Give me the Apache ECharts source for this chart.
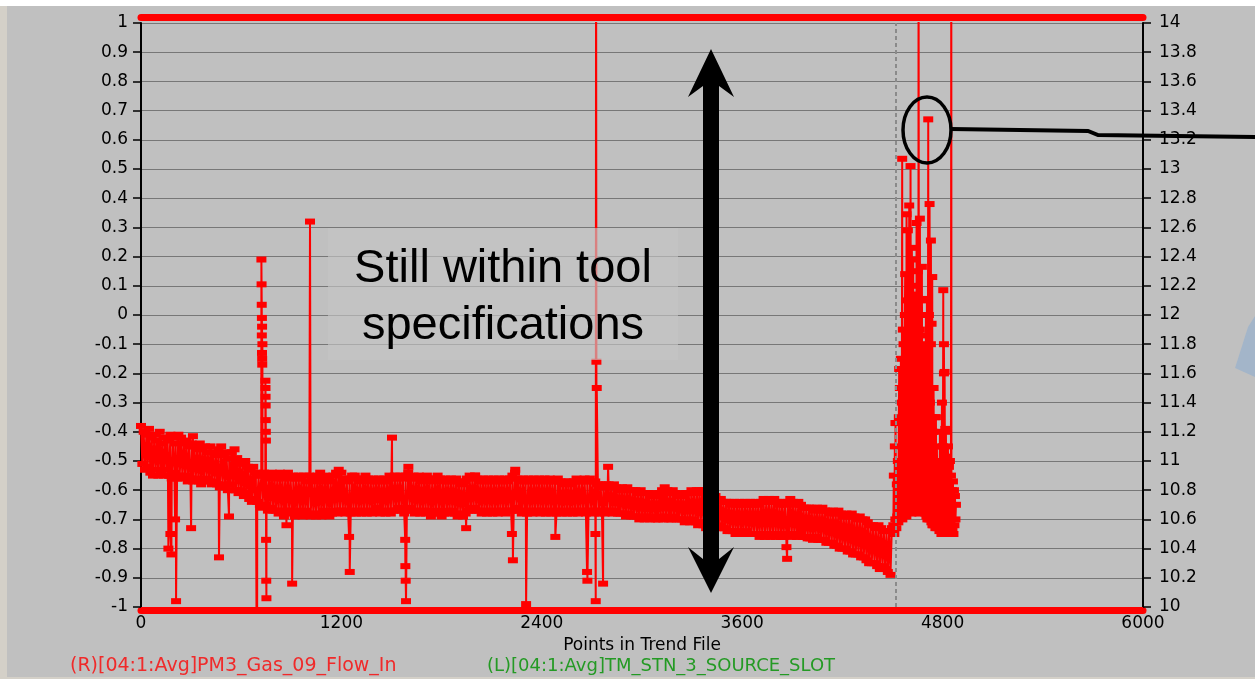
<!DOCTYPE html>
<html><head><meta charset="utf-8">
<script src="https://cdn.jsdelivr.net/npm/echarts@6/dist/echarts.min.js"></script>
<style>html,body{margin:0;padding:0;background:#c0c0c0;}#c{width:1255px;height:679px;}</style>
</head><body><div id="c"></div>
<script>
// Red series (R) PM3_Gas_09_Flow_In, values read on the right axis.
// Dense band: one reading every bandStep points in the trend file, starting at the given point.
const bandStep = 8;
const bandLeftStart = 0;
const bandLeft = [
11.24,10.98,11.2,10.94,11.18,10.96,11.22,10.92,11.16,10.9,
11.18,10.94,11.14,10.9,11.2,10.92,11.12,10.9,11.16,10.94,
11.14,10.9,11.18,10.88,11.16,10.92,11.12,10.88,11.18,10.9,
11.16,10.88,11.12,10.9,11.14,10.86,11.1,10.88,11.12,10.86,
11.1,10.88,11.08,10.86,11.12,10.84,11.08,10.86,11.1,10.88,
11.06,10.86,11.1,10.84,11.06,10.86,11.04,10.84,11.08,10.82,
11.1,10.84,11.04,10.82,11.06,10.8,11.02,10.84,11.06,10.8,
11.08,10.8,11.02,10.78,11.0,10.8,10.98,10.76,11.0,10.78,
10.96,10.74,10.94,10.72,10.96,10.74,10.92,10.72,10.9,10.7,
10.9,10.68,10.92,10.7,10.88,10.66,10.9,10.68,10.92,10.66];
const bandMidStart = 800;
const bandMid = [
10.9,10.66,10.88,10.64,10.92,10.66,10.88,10.62,10.9,10.66,
10.92,10.64,10.88,10.66,10.9,10.62,10.88,10.64,10.9,10.66,
10.88,10.62,10.9,10.66,10.86,10.64,10.9,10.62,10.88,10.64,
10.86,10.62,10.9,10.64,10.88,10.62,10.86,10.66,10.9,10.64,
10.88,10.62,10.86,10.64,10.9,10.66,10.92,10.64,10.94,10.66,
10.92,10.66,10.88,10.64,10.86,10.66,10.88,10.64,10.9,10.66,
10.9,10.64,10.88,10.66,10.86,10.64,10.88,10.66,10.9,10.64,
10.88,10.66,10.86,10.64,10.88,10.66,10.86,10.68,10.88,10.64,
10.86,10.66,10.88,10.64,10.86,10.66,10.9,10.64,10.88,10.66,
10.9,10.66,10.88,10.68,10.9,10.66,10.88,10.64,10.9,10.66,
10.92,10.68,10.88,10.66,10.9,10.64,10.88,10.66,10.9,10.64,
10.86,10.66,10.88,10.64,10.9,10.66,10.88,10.62,10.86,10.64,
10.88,10.64,10.9,10.66,10.88,10.62,10.86,10.64,10.88,10.66,
10.86,10.64,10.88,10.66,10.86,10.64,10.88,10.62,10.86,10.64,
10.84,10.62,10.86,10.64,10.88,10.66,10.9,10.66,10.88,10.68,
10.9,10.66,10.88,10.66,10.86,10.64,10.88,10.66,10.86,10.64,
10.88,10.66,10.86,10.64,10.88,10.66,10.86,10.64,10.88,10.66,
10.86,10.66,10.88,10.64,10.86,10.66,10.88,10.66,10.9,10.66,
10.92,10.68,10.88,10.66,10.86,10.64,10.88,10.66,10.86,10.64,
10.88,10.66,10.86,10.64,10.88,10.66,10.86,10.66,10.88,10.64,
10.86,10.66,10.88,10.64,10.86,10.66,10.88,10.64,10.86,10.66,
10.86,10.64,10.88,10.66,10.86,10.64,10.84,10.66,10.86,10.64,
10.86,10.66,10.84,10.64,10.86,10.66,10.88,10.64,10.86,10.66,
10.86,10.66,10.88,10.64,10.86,10.66,10.88,10.66,10.86,10.64];
const bandRightStart = 2720;
const bandRight = [
10.86,10.66,10.84,10.64,10.84,10.66,10.82,10.64,10.84,10.66,
10.84,10.66,10.82,10.64,10.84,10.66,10.82,10.64,10.8,10.64,
10.82,10.64,10.8,10.62,10.82,10.64,10.8,10.62,10.8,10.62,
10.8,10.62,10.78,10.6,10.8,10.62,10.78,10.6,10.78,10.62,
10.78,10.6,10.76,10.62,10.78,10.6,10.76,10.6,10.78,10.62,
10.8,10.6,10.82,10.62,10.8,10.6,10.78,10.6,10.8,10.62,
10.78,10.6,10.76,10.6,10.78,10.6,10.76,10.58,10.78,10.6,
10.78,10.58,10.8,10.6,10.78,10.58,10.8,10.56,10.8,10.58,
10.8,10.56,10.78,10.54,10.8,10.56,10.78,10.54,10.76,10.56,
10.76,10.54,10.74,10.56,10.74,10.54,10.72,10.54,10.72,10.52,
10.72,10.52,10.7,10.52,10.72,10.5,10.7,10.52,10.72,10.5,
10.7,10.5,10.72,10.52,10.7,10.5,10.72,10.5,10.7,10.5,
10.72,10.5,10.7,10.48,10.72,10.5,10.74,10.48,10.72,10.5,
10.74,10.48,10.72,10.5,10.74,10.48,10.72,10.5,10.7,10.48,
10.72,10.48,10.7,10.5,10.72,10.5,10.74,10.48,10.72,10.5,
10.7,10.48,10.72,10.5,10.7,10.48,10.68,10.48,10.68,10.47,
10.68,10.47,10.68,10.46,10.66,10.48,10.68,10.46,10.66,10.46,
10.68,10.46,10.66,10.44,10.66,10.44,10.64,10.44,10.66,10.42,
10.64,10.42,10.66,10.4,10.64,10.4,10.62,10.4,10.64,10.38,
10.62,10.38,10.64,10.36,10.62,10.36,10.6,10.36,10.62,10.34,
10.6,10.34,10.6,10.32,10.58,10.3,10.56,10.3,10.56,10.3,
10.54,10.28,10.56,10.26,10.54,10.28,10.52,10.26,10.52,10.24,
10.52,10.22,10.54];
// Unstable region after the cursor: a reading every tailStep points
const tailStep = 3;
const tailStart = 4505;
const tailBand = [
10.56,10.9,10.5,11.1,10.6,11.26,10.54,10.84,10.62,11.0,10.58,11.3,
10.64,11.5,10.62,11.7,10.66,11.4,10.6,11.9,10.7,11.6,10.64,12.0,10.68,11.5,10.62,11.8,10.66,12.1,10.7,11.6,
10.66,11.9,10.7,11.5,10.64,12.2,10.68,11.7,10.72,11.4,10.66,12.0,10.7,11.6,10.66,11.8,10.68,12.3,10.7,11.5,10.64,11.9,10.68,11.6,10.72,12.1,10.66,11.4,10.7,11.8,10.68,11.5,10.64,12.0,
10.62,11.7,10.6,11.5,10.64,12.0,10.6,11.4,10.62,11.8,10.58,11.3,10.56,
11.2,10.56,11.0,10.6,11.3,10.54,10.9,10.58,11.1,10.54,11.0,10.56,10.9,
10.52,11.2,10.54,11.0,10.5,11.4,10.52,11.1,10.5,11.6,10.54,11.0,10.5,11.2,10.52,10.9,10.5,11.1,10.54,10.96,10.5,11.0,10.52,10.9,
10.52,10.8,10.54,10.86,10.5,10.8,10.56,10.76,10.6,10.7];
// Isolated excursions: [point, value] (15 / 9 = off the scale)
const flowSpikes = [[164,10.4],[170,10.9],[176,10.5],[182,10.36],[204,10.6],[210,10.04],[300,10.54],[311,11.17],[467,10.34],[527,10.62],[695,9.0],
[721,12.38],[722,12.21],[723,12.07],[723.5,11.86],[724,11.98],[724.5,11.74],[725,11.92],[725.5,11.7],[726,11.66],[727,11.8],
[745,11.55],[745.5,11.5],[746,11.44],[746.5,11.38],[747,11.28],[747.5,11.2],[748,11.14],[749,10.46],[750,10.18],[751,10.06],
[871,10.56],[905,10.16],[1012,12.64],[1073,10.92],[1246,10.48],[1250,10.24],[1503,11.16],[1582,10.46],[1583,10.28],[1585,10.18],[1587,10.04],[1601,10.96],
[1947,10.54],[2001,10.9],[2221,10.5],[2227,10.32],[2241,10.94],[2306,10.02],[2481,10.48],[2671,10.24],[2673,10.18],
[2721,10.5],[2723,10.04],[2725,15],[2727,11.68],[2729,11.5],[2767,10.16],[2797,10.96],[3865,10.41],[3869,10.33],[3961,10.54],
[4518,11.26],[4540,11.63],[4558,13.07],[4566,11.8],[4576,12.28],[4584,12.69],[4592,12.58],[4600,12.75],[4608,13.02],[4616,12.46],[4624,12.38],[4632,12.14],[4640,11.46],[4644,12.63],[4652,11.9],[4656,15],
[4664,12.66],[4672,11.86],[4676,12.33],[4684,11.5],[4706,12.11],[4714,13.34],[4718,11.29],[4722,12.76],[4730,12.51],[4734,11.94],[4738,12.26],[4746,11.5],[4760,11.3],
[4804,12.17],[4808,11.8],[4812,11.61],[4816,11.22],[4826,11.03],[4852,15]];
const cursorPoint = 4520;
const legendR = '(R)[04:1:Avg]PM3_Gas_09_Flow_In';
const legendL = '(L)[04:1:Avg]TM_STN_3_SOURCE_SLOT';
const xName = 'Points in Trend File';
const noteLines = ['Still within tool', 'specifications'];

const withIndex = (start, step, vals) => vals.map((v, i) => [start + i * step, v]);
const flowData = []
  .concat(withIndex(bandLeftStart, bandStep, bandLeft), withIndex(bandMidStart, bandStep, bandMid),
          withIndex(bandRightStart, bandStep, bandRight), withIndex(tailStart, tailStep, tailBand), flowSpikes)
  .sort((a, b) => a[0] - b[0]);

const FONT = 'DejaVu Sans';
const chart = echarts.init(document.getElementById('c'), null, {renderer: 'canvas'});
const fmt = v => String(Math.round(v * 10) / 10);
chart.setOption({
  backgroundColor: '#c0c0c0',
  animation: false,
  grid: {left: 141, right: 112, top: 23, bottom: 72, containLabel: false},
  xAxis: [{
    type: 'value', min: 0, max: 6000, interval: 1200, position: 'bottom', offset: 3,
    axisLine: {show: true, onZero: false, lineStyle: {color: '#ff0000', width: 7}},
    axisTick: {show: false}, splitLine: {show: false},
    axisLabel: {margin: 5, fontSize: 17, color: '#000', fontFamily: FONT, formatter: v => String(v)},
    name: xName, nameLocation: 'middle', nameGap: 18,
    nameTextStyle: {fontSize: 17, color: '#000', fontFamily: FONT}
  }, {
    type: 'value', min: 0, max: 6000, interval: 1200, position: 'top', offset: 5.5,
    axisLine: {show: true, onZero: false, lineStyle: {color: '#ff0000', width: 7}},
    axisTick: {show: false}, axisLabel: {show: false}, splitLine: {show: false}
  }],
  yAxis: [{
    type: 'value', min: -1, max: 1, interval: 0.1, position: 'left',
    axisLine: {show: true, onZero: false, lineStyle: {color: '#000', width: 2}},
    axisTick: {show: true, length: 8, lineStyle: {color: '#000', width: 1.5}},
    splitLine: {show: true, lineStyle: {color: '#777777', width: 1}},
    axisLabel: {margin: 13, fontSize: 17, color: '#000', fontFamily: FONT, formatter: fmt}
  }, {
    type: 'value', min: 10, max: 14, interval: 0.2, position: 'right',
    axisLine: {show: true, onZero: false, lineStyle: {color: '#000', width: 2}},
    axisTick: {show: true, length: 8, lineStyle: {color: '#000', width: 1.5}},
    splitLine: {show: false},
    axisLabel: {margin: 16, fontSize: 17, color: '#000', fontFamily: FONT, formatter: fmt}
  }],
  series: [{
    name: legendR, type: 'line', xAxisIndex: 0, yAxisIndex: 1,
    data: flowData, clip: true, symbol: 'rect', symbolSize: [10, 6], showSymbol: true,
    sampling: null,
    lineStyle: {color: '#ff0000', width: 2}, itemStyle: {color: '#ff0000'},
    z: 3, silent: true,
    markLine: {
      silent: true, symbol: ['none', 'none'], label: {show: false},
      lineStyle: {color: '#8a8a8a', type: [4, 3], width: 2},
      data: [{xAxis: cursorPoint}]
    }
  }],
  graphic: [
    {type: 'rect', shape: {x: 0, y: 0, width: 1255, height: 6}, style: {fill: '#ffffff'}, z: 0},
    {type: 'rect', shape: {x: 0, y: 6, width: 7, height: 673}, style: {fill: '#d4d0c8'}, z: 0},
    {type: 'rect', shape: {x: 0, y: 677, width: 1255, height: 2}, style: {fill: '#d4d0c8'}, z: 0},
    {type: 'rect', shape: {x: 328, y: 228, width: 350, height: 132}, style: {fill: 'rgba(196,196,196,0.65)'}, z: 20},
    {type: 'text', x: 503, y: 269, style: {text: noteLines[0], font: '47px "Liberation Sans"', fill: '#000', align: 'center', verticalAlign: 'middle'}, z: 21},
    {type: 'text', x: 503, y: 326, style: {text: noteLines[1], font: '47px "Liberation Sans"', fill: '#000', align: 'center', verticalAlign: 'middle'}, z: 21},
    {type: 'polygon', shape: {points: [[711,49],[734,97],[719,86],[719,559],[734,547],[711,593],[688,547],[703,559],[703,86],[688,97]]}, style: {fill: '#000'}, z: 21},
    {type: 'ellipse', shape: {cx: 927, cy: 130, rx: 24, ry: 33}, style: {fill: 'none', stroke: '#000', lineWidth: 3.5}, z: 21},
    {type: 'polyline', shape: {points: [[951,129],[1088,131],[1098,135],[1255,137]]}, style: {fill: 'none', stroke: '#000', lineWidth: 4}, z: 21},
    {type: 'polygon', shape: {points: [[1235,368],[1248,327],[1255,316],[1255,377]]}, style: {fill: '#a3b5c9'}, z: 21},
    {type: 'text', x: 70, y: 666, style: {text: legendR, font: '19px "DejaVu Sans"', fill: '#f02a2a', verticalAlign: 'middle'}, z: 21},
    {type: 'text', x: 487, y: 666, style: {text: legendL, font: '18px "DejaVu Sans"', fill: '#249a24', verticalAlign: 'middle'}, z: 21}
  ]
});
</script></body></html>
